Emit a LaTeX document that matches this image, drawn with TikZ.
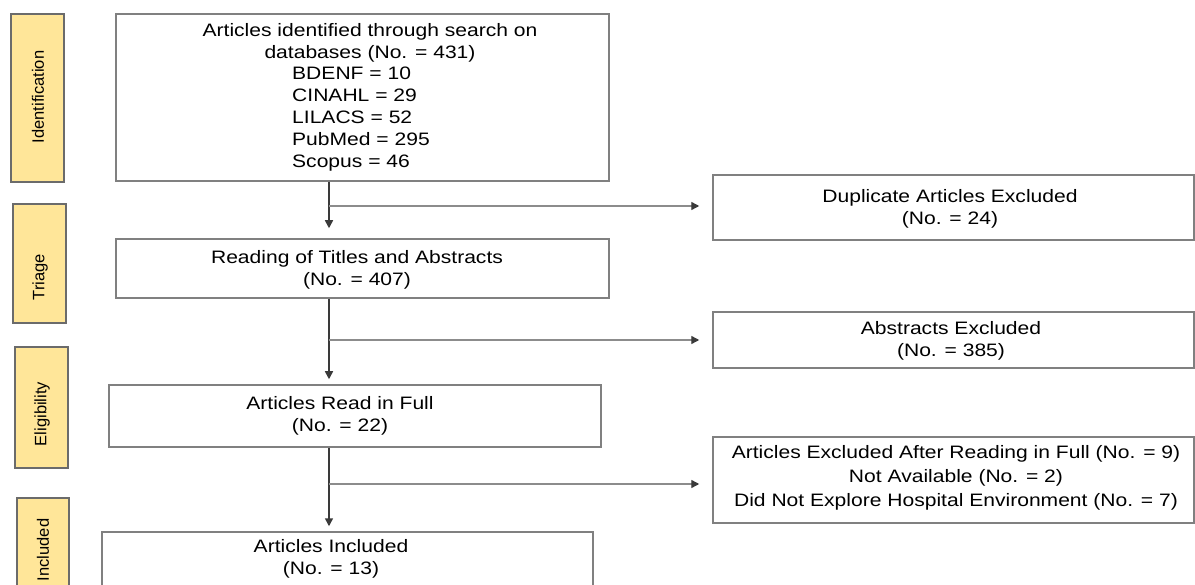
\documentclass[tikz,border=0pt]{standalone}
\usepackage{fontspec}
\setmainfont{Liberation Sans}[FakeStretch=1.17]
\newfontfamily\stagefont{Liberation Sans}
\usetikzlibrary{arrows.meta}
\definecolor{stagefill}{HTML}{FFE699}
\definecolor{stageline}{HTML}{6B6B6B}
\definecolor{boxline}{HTML}{808080}
\definecolor{spinecol}{HTML}{3A3A3A}
\definecolor{branchcol}{HTML}{8C8C8C}
\begin{document}
\begin{tikzpicture}[x=1pt,y=-1pt,
  stage/.style={draw=stageline,fill=stagefill,line width=1.4pt,inner sep=0pt},
  stagetext/.style={rotate=90,font=\stagefont\fontsize{16.5}{19}\selectfont,inner sep=0pt},
  flowbox/.style={draw=boxline,line width=1.5pt,inner sep=0pt,fill=white},
  btext/.style={align=center,font=\fontsize{18}{22.5}\selectfont,inner sep=0pt},
  spine/.style={draw=spinecol,line width=1.6pt,-{Triangle[length=8pt,width=8pt]}},
  barrow/.style={draw=branchcol,line width=1.4pt,-{Triangle[length=8pt,width=8pt,color=spinecol]}}]
\clip (0,0) rectangle (1195,585);
\fill[white] (0,0) rectangle (1195,585);

% stage boxes
\node[stage,minimum width=53pt,minimum height=168pt] (sid) at (37.5,98) {};
\node[stagetext] (sidt) at (38,97) {Identification};
\node[stage,minimum width=53pt,minimum height=119pt] (str) at (39.5,263.5) {};
\node[stagetext] (strt) at (40,277) {Triage};
\node[stage,minimum width=53pt,minimum height=121pt] (sel) at (41.5,407.5) {};
\node[stagetext] (selt) at (42,414) {Eligibility};
\node[stage,minimum width=52pt,minimum height=110pt] (sin) at (43,553) {};
\node[stagetext] (sint) at (43,550) {Included};

% main boxes
\node[flowbox,minimum width=493pt,minimum height=167pt] (b1) at (362.5,97.5) {};
\node[btext,font=\fontsize{18}{21.5}\selectfont] (b1a) at (370,43) {Articles identified through search on\\databases (No. = 431)};
\node[btext,align=left,anchor=west,font=\fontsize{18}{22}\selectfont] (b1b) at (292,119) {BDENF = 10\\CINAHL = 29\\LILACS = 52\\PubMed = 295\\Scopus = 46};

\node[flowbox,minimum width=493pt,minimum height=59pt] (b2) at (362.5,268.5) {};
\node[btext] (b2t) at (357,270) {Reading of Titles and Abstracts\\(No. = 407)};

\node[flowbox,minimum width=492pt,minimum height=62pt] (b3) at (355,416) {};
\node[btext] (b3t) at (340,416) {Articles Read in Full\\(No. = 22)};

\node[flowbox,minimum width=491pt,minimum height=70pt] (b4) at (347.5,567) {};
\node[btext] (b4t) at (331,559) {Articles Included\\(No. = 13)};

% right boxes
\node[flowbox,minimum width=481pt,minimum height=65pt] (r1) at (953.5,207.5) {};
\node[btext] (r1t) at (950,209) {Duplicate Articles Excluded\\(No. = 24)};
\node[flowbox,minimum width=481pt,minimum height=56pt] (r2) at (953.5,340) {};
\node[btext] (r2t) at (951,341) {Abstracts Excluded\\(No. = 385)};
\node[flowbox,minimum width=481pt,minimum height=86pt] (r3) at (953.5,480) {};
\node[btext,font=\fontsize{18}{24}\selectfont] (r3t) at (956,478) {Articles Excluded After Reading in Full (No. = 9)\\Not Available (No. = 2)\\Did Not Explore Hospital Environment (No. = 7)};

% connectors
\coordinate (sp) at (329,0);
\coordinate (j1) at (329,206);
\coordinate (j2) at (329,340);
\coordinate (j3) at (329,484);
\draw[spine,shorten >=10pt] (b1.south -| sp) -- (b2.north -| sp);
\draw[spine,shorten >=5pt] (b2.south -| sp) -- (b3.north -| sp);
\draw[spine,shorten >=5pt] (b3.south -| sp) -- (b4.north -| sp);
\draw[barrow,shorten >=13pt] (j1) -- (r1.west |- j1);
\draw[barrow,shorten >=13pt] (j2) -- (r2.west |- j2);
\draw[barrow,shorten >=13pt] (j3) -- (r3.west |- j3);
\end{tikzpicture}
\end{document}
